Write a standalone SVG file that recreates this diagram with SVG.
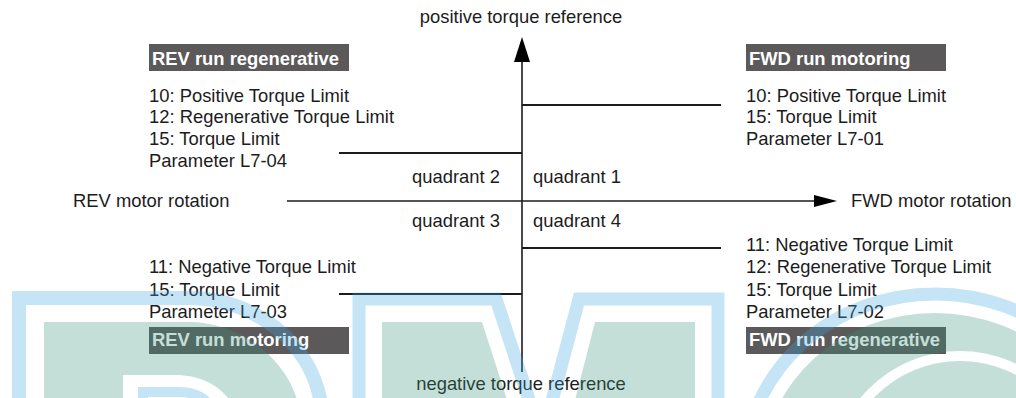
<svg xmlns="http://www.w3.org/2000/svg" width="1016" height="398" viewBox="0 0 1016 398">
<style>
.t{font-family:"Liberation Sans",Arial,sans-serif;font-size:18.4px;fill:#1c1c1c}
.b{font-family:"Liberation Sans",Arial,sans-serif;font-size:18.4px;font-weight:bold;fill:#ffffff}
.box{fill:#5b5959}
.ax{stroke:#1c1c1c;stroke-width:1.6;fill:none}
.lim{stroke:#1c1c1c;stroke-width:2;fill:none}
.ah{fill:#000}
.wb{fill:none;stroke:#3ea5de;stroke-opacity:0.3}
.wg{fill:#3a947d;fill-opacity:0.3}
</style>
<rect width="1016" height="398" fill="#ffffff"/>

<g id="connectors">
  <line class="ax" x1="522" y1="372" x2="522" y2="58"/>
  <polygon class="ah" points="522,37 530,62 514,62"/>
  <line class="ax" x1="287" y1="201" x2="818" y2="201"/>
  <polygon class="ah" points="837,201 814,195 814,207"/>
  <line class="lim" x1="522" y1="105" x2="721" y2="105"/>
  <line class="lim" x1="339" y1="153" x2="522" y2="153"/>
  <line class="lim" x1="522" y1="248" x2="721" y2="248"/>
  <line class="lim" x1="339" y1="294" x2="522" y2="294"/>
</g>

<g id="axis-labels">
  <text class="t" x="521" y="23" text-anchor="middle">positive torque reference</text>
  <text class="t" x="521" y="390" text-anchor="middle">negative torque reference</text>
  <text class="t" x="73" y="207">REV motor rotation</text>
  <text class="t" x="851" y="207">FWD motor rotation</text>
</g>

<g id="quadrant-labels">
  <text class="t" x="412" y="183">quadrant 2</text>
  <text class="t" x="533" y="183">quadrant 1</text>
  <text class="t" x="412" y="227">quadrant 3</text>
  <text class="t" x="533" y="227">quadrant 4</text>
</g>

<g id="q2-rev-regen">
  <rect class="box" x="149" y="44" width="200" height="27"/>
  <text class="b" x="152" y="65">REV run regenerative</text>
  <text class="t" x="149" y="101.5">10: Positive Torque Limit</text>
  <text class="t" x="149" y="123">12: Regenerative Torque Limit</text>
  <text class="t" x="149" y="144.8">15: Torque Limit</text>
  <text class="t" x="149" y="166.5">Parameter L7-04</text>
</g>

<g id="q1-fwd-motoring">
  <rect class="box" x="746" y="44" width="200" height="27"/>
  <text class="b" x="749" y="65">FWD run motoring</text>
  <text class="t" x="746" y="101.5">10: Positive Torque Limit</text>
  <text class="t" x="746" y="123">15: Torque Limit</text>
  <text class="t" x="746" y="144.8">Parameter L7-01</text>
</g>

<g id="q3-rev-motoring">
  <text class="t" x="149" y="272.5">11: Negative Torque Limit</text>
  <text class="t" x="149" y="295.5">15: Torque Limit</text>
  <text class="t" x="149" y="318">Parameter L7-03</text>
  <rect class="box" x="149" y="327" width="200" height="27"/>
  <text class="b" x="152" y="346">REV run motoring</text>
</g>

<g id="q4-fwd-regen">
  <text class="t" x="746" y="250.5">11: Negative Torque Limit</text>
  <text class="t" x="746" y="272.5">12: Regenerative Torque Limit</text>
  <text class="t" x="746" y="295.5">15: Torque Limit</text>
  <text class="t" x="746" y="318">Parameter L7-02</text>
  <rect class="box" x="746" y="327" width="200" height="27"/>
  <text class="b" x="749" y="346">FWD run regenerative</text>
</g>

<g id="watermark">
  <path class="wb" stroke-width="14" d="M19,412 V298 H190 C250,298 315,340 322,412"/>
  <path class="wg" fill-rule="evenodd" d="M44,412 V322 H190 C235,322 290,355 300,412 Z M123,412 V375 H175 C205,375 228,390 236,412 Z"/>
  <path class="wb" stroke-width="10" d="M143,412 V392 H178 C195,392 208,398 212,412"/>
  <polyline class="wb" stroke-width="13" stroke-linejoin="miter" points="359,412 359,299 496,299 542,439 579,299 718,299 718,412"/>
  <polygon class="wg" points="382,412 382,322 482,322 511,412"/>
  <polygon class="wg" points="595,322 695,322 695,412 572,412"/>
  <ellipse class="wb" stroke-width="13" cx="935" cy="468" rx="190" ry="174"/>
  <path class="wg" fill-rule="evenodd" d="M764,468 A171,155 0 1 1 1106,468 A171,155 0 1 1 764,468 Z M831,480 A129,129 0 1 1 1089,480 A129,129 0 1 1 831,480 Z M841,480 A119,119 0 1 1 1079,480 A119,119 0 1 1 841,480 Z"/>
</g>
</svg>
